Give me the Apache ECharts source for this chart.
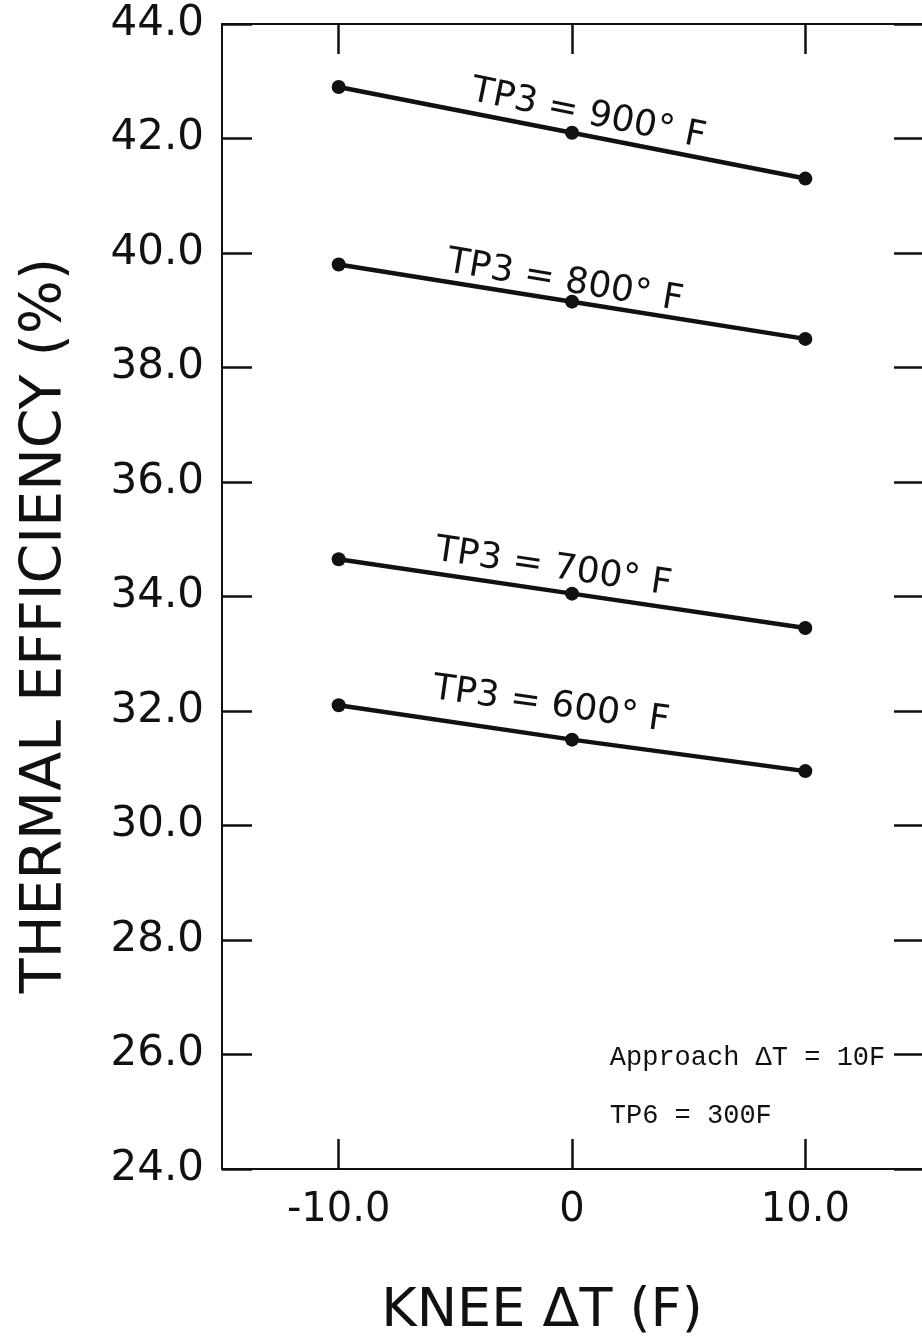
<!DOCTYPE html>
<html>
<head>
<meta charset="utf-8">
<title>Thermal efficiency vs knee ΔT</title>
<script src="https://cdn.jsdelivr.net/npm/echarts@6/dist/echarts.min.js"></script>
<style>
  html, body { margin: 0; padding: 0; background: #fff; }
  #chart { width: 922px; height: 1344px; }
</style>
</head>
<body>
<div id="chart"></div>
<script>
// Knee temperature difference (F) at which each case was evaluated
const kneeDeltaT = [-10, 0, 10];

// Thermal efficiency (%) for each turbine inlet temperature TP3
const eff900 = [42.9, 42.1, 41.3];
const eff800 = [39.8, 39.15, 38.5];
const eff700 = [34.65, 34.05, 33.45];
const eff600 = [32.1, 31.5, 30.95];

const curveNames = ['TP3 = 900° F', 'TP3 = 800° F', 'TP3 = 700° F', 'TP3 = 600° F'];

// Axis ticks
const xTickValues = [-10, 0, 10];
const yTickValues = [24, 26, 28, 30, 32, 34, 36, 38, 40, 42, 44];

// Case notes
const noteLines = ['Approach ΔT = 10F', 'TP6 = 300F'];

// Where each curve caption sits (data space) and its tilt
const captionPlacement = [
  { at: [0.7, 42.42], rotate: -11.5 },
  { at: [-0.3, 39.5], rotate: -9.5 },
  { at: [-0.8, 34.5], rotate: -8.5 },
  { at: [-0.9, 32.1], rotate: -8 }
];
const notePlacement = [
  { at: [1.62, 25.94] },
  { at: [1.62, 24.92] }
];

const ink = '#111';
const lettering = 'DejaVu Sans, Noto Sans, sans-serif';
const typewriter = 'Liberation Mono, DejaVu Sans Mono, monospace';

const chart = echarts.init(document.getElementById('chart'), null, { renderer: 'canvas' });

function pairs(values) {
  return kneeDeltaT.map((x, i) => [x, values[i]]);
}

const seriesValues = [eff900, eff800, eff700, eff600];

const series = seriesValues.map((vals, i) => {
  const cap = captionPlacement[i];
  const s = {
    name: curveNames[i],
    type: 'line',
    data: pairs(vals),
    symbol: 'circle',
    symbolSize: 14,
    showSymbol: true,
    lineStyle: { color: ink, width: 4.5 },
    itemStyle: { color: ink },
    animation: false,
    markPoint: {
      symbol: 'circle',
      symbolSize: 0,
      silent: true,
      data: [{
        coord: cap.at,
        label: {
          show: true,
          formatter: curveNames[i],
          position: 'inside',
          rotate: cap.rotate,
          color: ink,
          fontFamily: lettering,
          fontSize: 36,
          align: 'center',
          verticalAlign: 'middle'
        }
      }]
    }
  };
  if (i === seriesValues.length - 1) {
    s.markPoint.data = s.markPoint.data.concat(noteLines.map((t, k) => ({
      coord: notePlacement[k].at,
      label: {
        show: true,
        formatter: t,
        position: 'right',
        distance: 0,
        color: ink,
        fontFamily: typewriter,
        fontSize: 27,
        align: 'left',
        verticalAlign: 'middle'
      }
    })));
  }
  return s;
});

const tickStyle = { color: ink, width: 2.5 };

chart.setOption({
  backgroundColor: '#fff',
  animation: false,
  grid: { left: 222, right: 0, top: 24, bottom: 162, containLabel: false },
  xAxis: [
    {
      type: 'value',
      min: -15, max: 15, interval: 5,
      position: 'bottom',
      name: 'KNEE ΔT (F)',
      nameLocation: 'middle',
      nameGap: 116,
      nameTextStyle: { color: ink, fontFamily: lettering, fontSize: 54, padding: [0, 60, 0, 0] },
      axisLine: { show: true, onZero: false, lineStyle: { color: ink, width: 2 } },
      axisTick: { show: true, inside: true, length: 30, customValues: xTickValues, lineStyle: tickStyle },
      axisLabel: {
        show: true, customValues: xTickValues, margin: 22,
        color: ink, fontFamily: lettering, fontSize: 40,
        formatter: v => (v === 0 ? '0' : v.toFixed(1))
      },
      splitLine: { show: false }
    },
    {
      type: 'value',
      min: -15, max: 15, interval: 5,
      position: 'top',
      axisLine: { show: true, onZero: false, lineStyle: { color: ink, width: 2 } },
      axisTick: { show: true, inside: true, length: 30, customValues: xTickValues, lineStyle: tickStyle },
      axisLabel: { show: false },
      splitLine: { show: false }
    }
  ],
  yAxis: [
    {
      type: 'value',
      min: 24, max: 44, interval: 2,
      position: 'left',
      name: 'THERMAL EFFICIENCY (%)',
      nameLocation: 'middle',
      nameGap: 147,
      nameTextStyle: { color: ink, fontFamily: lettering, fontSize: 57, padding: [0, 58, 0, 0] },
      axisLine: { show: true, onZero: false, lineStyle: { color: ink, width: 2 } },
      axisTick: { show: true, inside: true, length: 30, customValues: yTickValues, lineStyle: tickStyle },
      axisLabel: {
        show: true, margin: 18,
        color: ink, fontFamily: lettering, fontSize: 42,
        formatter: v => v.toFixed(1)
      },
      splitLine: { show: false }
    },
    {
      type: 'value',
      min: 24, max: 44, interval: 2,
      position: 'right',
      axisLine: { show: false, onZero: false },
      axisTick: { show: true, inside: true, length: 28, customValues: yTickValues, lineStyle: tickStyle },
      axisLabel: { show: false },
      splitLine: { show: false }
    }
  ],
  series: series
});
</script>
</body>
</html>
